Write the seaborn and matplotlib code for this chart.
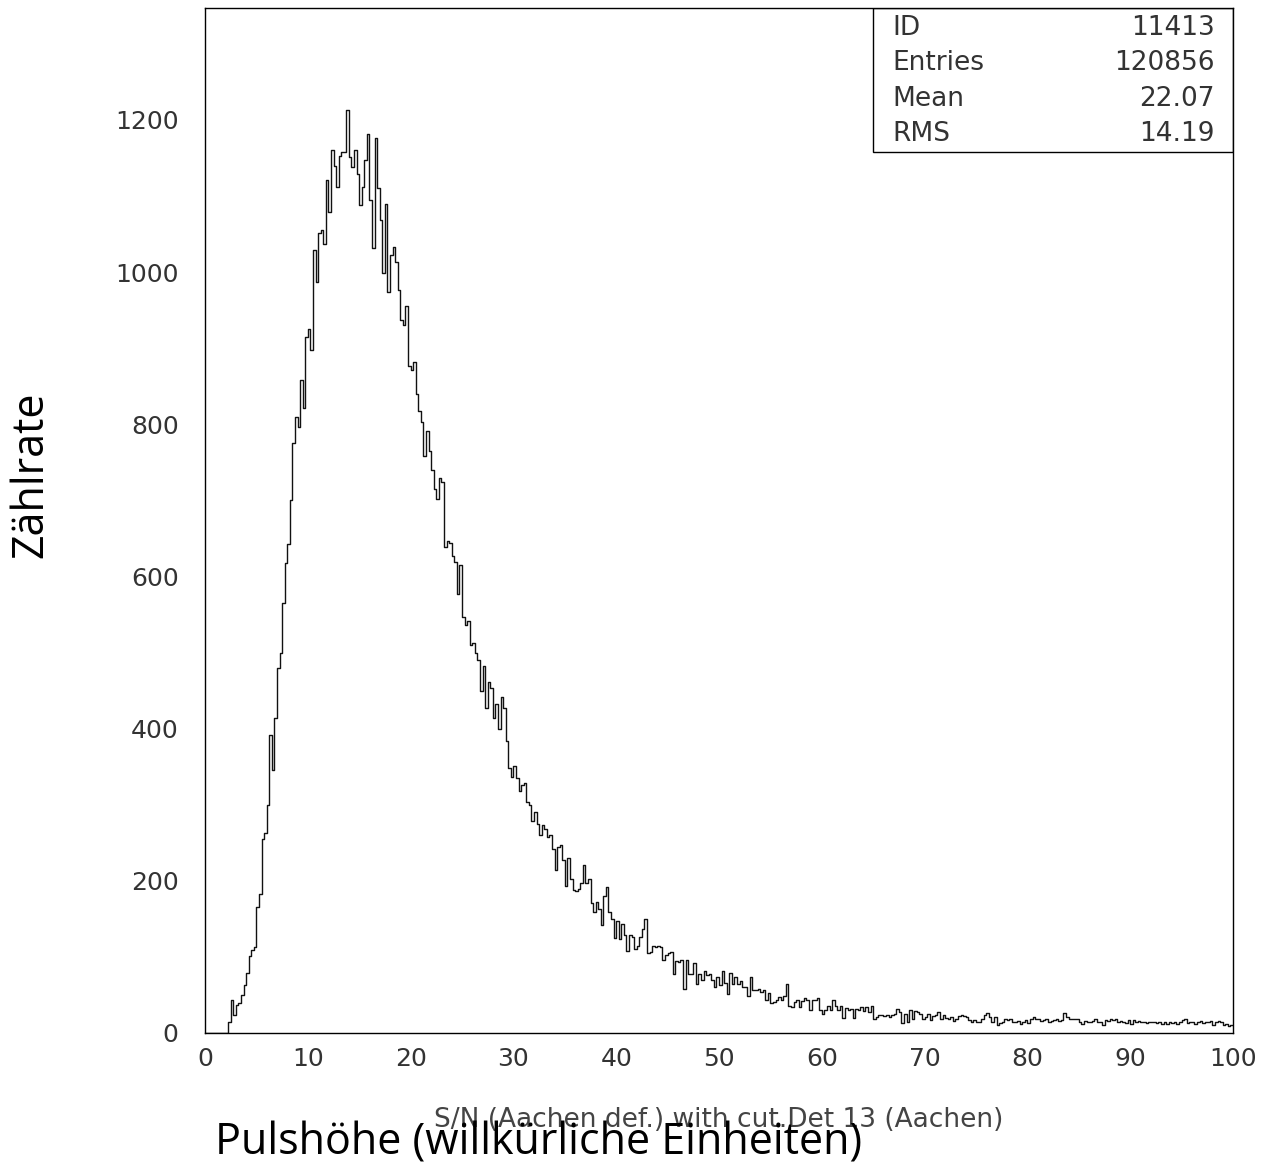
import numpy as np
import pandas as pd
import seaborn as sns
import matplotlib.pyplot as plt
from matplotlib.patches import Rectangle
from matplotlib.ticker import MultipleLocator

# Histogramm 11413: S/N (Aachen def.) with cut, Det 13 -- 400 Bins a 0.25 von 0 bis 100
bin_width = 0.25
x_min, x_max = 0, 100

# Zaehlraten pro Bin (abschnittsweise)
counts_leer = [0] * 9                                    # 0.00 - 2.25
counts_anstieg = [15, 43, 24, 37, 40, 50, 63, 79, 101, 109, 113, 166, 183, 255,
                  263, 299, 391, 346, 414, 480, 500, 565]          # 2.25 - 7.75
counts_anstieg2 = [617, 642, 700, 775, 810, 797, 858, 821, 915, 925, 897]  # 7.75 - 10.5
counts_peak = [1029, 987, 1051, 1055, 1037, 1121, 1079, 1160, 1140, 1112,
               1152, 1158, 1158, 1213, 1151, 1138, 1160, 1129]     # 10.5 - 15.0
counts_peak2 = [1088, 1112, 1147, 1181, 1095, 1031, 1176, 1110, 1068, 999,
                1090, 974, 1022, 1033, 1013, 977]                  # 15.0 - 19.0
counts_abfall = [937, 931, 955, 876, 871, 882, 840, 818, 803, 758,
                 791, 765, 740, 715, 702, 729, 724, 639, 647, 644,
                 627, 619, 577, 615, 547, 536, 541, 510, 512, 500,
                 490, 449, 482, 427, 461, 454, 414, 433, 400, 441,
                 427]                                              # 19.0 - 29.25
counts_abfall2 = [384, 348, 337, 351, 335, 318, 326, 329, 304, 300,
                  278, 290, 275, 260, 273, 268, 258, 260, 242, 214,
                  245, 247, 227, 193, 230, 202, 188, 187, 189, 197,
                  221, 197, 202, 171, 159, 172, 163, 142, 180, 192,
                  159, 150, 125, 147, 124, 143, 129, 108, 129, 126,
                  110, 114, 126, 137, 150, 105, 106, 114, 113, 114]  # 29.25 - 44.25
counts_schwanz = [113, 96, 102, 105, 106, 77, 95, 93, 96, 58,
                  96, 78, 78, 92, 65, 78, 69, 82, 76, 77,
                  69, 60, 74, 63, 82, 66, 51, 79, 65, 73,
                  65, 68, 60, 61, 49, 74, 56, 56, 58, 54,
                  56, 43, 52, 39, 41, 43, 47, 44, 48, 64,
                  36, 34, 41, 43, 34, 42, 46, 44, 30, 43,
                  43, 46, 30, 25, 30, 35, 30, 43, 35, 30,
                  35, 20, 33, 30, 31, 20, 31, 30, 34, 29,
                  34, 28, 36, 19, 21, 23, 23, 22, 23, 21,
                  23, 25, 32, 28, 13, 25, 14, 30, 19, 29,
                  28, 25, 19, 21, 25, 17, 22, 23, 28, 19,
                  23, 20, 19, 21, 16, 19, 22, 23]                  # 44.25 - 73.75
counts_ende = [22, 21, 17, 15, 17, 14, 15, 18, 24, 26,
               21, 15, 21, 11, 13, 14, 19, 17, 18, 15,
               14, 16, 12, 15, 17, 13, 18, 21, 19, 19,
               16, 17, 18, 15, 16, 17, 19, 16, 17, 26,
               21, 19, 18, 19, 19, 15, 12, 16, 14, 15,
               16, 19, 15, 14, 11, 17, 16, 19, 17, 18,
               14, 16, 15, 13, 17, 12, 17, 15, 16, 14,
               15, 13, 15, 14, 15, 13, 15, 12, 15, 12,
               15, 13, 14, 12, 14, 17, 18, 13, 15, 14,
               12, 15, 16, 13, 15, 14, 16, 11, 15, 16,
               15, 11, 12, 9, 11]                                  # 73.75 - 100

stat_labels = ['ID', 'Entries', 'Mean', 'RMS']
stat_values = ['11413', '120856', '22.07', '14.19']

counts = np.concatenate([counts_leer, counts_anstieg, counts_anstieg2, counts_peak,
                         counts_peak2, counts_abfall, counts_abfall2, counts_schwanz,
                         counts_ende])
centers = x_min + bin_width * (np.arange(len(counts)) + 0.5)
df = pd.DataFrame({'pulshoehe': centers, 'n': counts})

sns.set_style('white')
plt.rcParams['font.family'] = ['DejaVu Sans']

fig = plt.figure(figsize=(12.69, 11.62), dpi=100)
ax = fig.add_axes([205 / 1269, 1 - 1033 / 1162, 1028 / 1269, 1025 / 1162])

sns.histplot(data=df, x='pulshoehe', weights='n', binwidth=bin_width,
             binrange=(x_min, x_max), element='step', fill=False,
             color='#111111', linewidth=1.0, ax=ax)

ax.set_xlim(x_min, x_max)
ax.set_ylim(0, 1347)
ax.set_xlabel('')
ax.set_ylabel('')
for s in ax.spines.values():
    s.set_color('black')
    s.set_linewidth(1.0)

ax.xaxis.set_major_locator(MultipleLocator(10))
ax.xaxis.set_minor_locator(MultipleLocator(2))
ax.yaxis.set_major_locator(MultipleLocator(200))
ax.yaxis.set_minor_locator(MultipleLocator(50))
ax.set_yticks(np.arange(0, 1201, 200))
ax.tick_params(which='both', direction='in', top=False, right=False, colors='#444444',
               labelcolor='#333333', labelsize=18)
ax.tick_params(which='major', length=19, width=1.0)
ax.tick_params(which='minor', length=10, width=1.0)
ax.tick_params(axis='y', pad=19)
ax.tick_params(axis='x', pad=10)

# Statistik-Box oben rechts
ax.add_patch(Rectangle((0.65, 0.8595), 0.35, 0.1405, transform=ax.transAxes,
                       fill=False, edgecolor='black', linewidth=1.0, zorder=5))
row_y = [0.9805, 0.9463, 0.9112, 0.8771]
for lab, val, yy in zip(stat_labels, stat_values, row_y):
    ax.text(0.669, yy, lab, transform=ax.transAxes, ha='left', va='center',
            fontsize=19, color='#333333')
    ax.text(0.9825, yy, val, transform=ax.transAxes, ha='right', va='center',
            fontsize=19, color='#333333')

fig.text(719 / 1269, 1 - 1120 / 1162, 'S/N (Aachen def.) with cut.Det 13 (Aachen)',
         ha='center', va='center', fontsize=19, color='#444444')
fig.text(215 / 1269, 1 - 1154 / 1162, 'Pulshöhe (willkürliche Einheiten)',
         ha='left', va='baseline', fontsize=31, family=['Open Sans', 'DejaVu Sans'],
         color='black')
fig.text(31 / 1269, 1 - 475 / 1162, 'Zählrate', rotation=90, ha='center', va='center',
         fontsize=31, family=['Open Sans', 'DejaVu Sans'], color='black')

fig.savefig('out.png', dpi=100)
